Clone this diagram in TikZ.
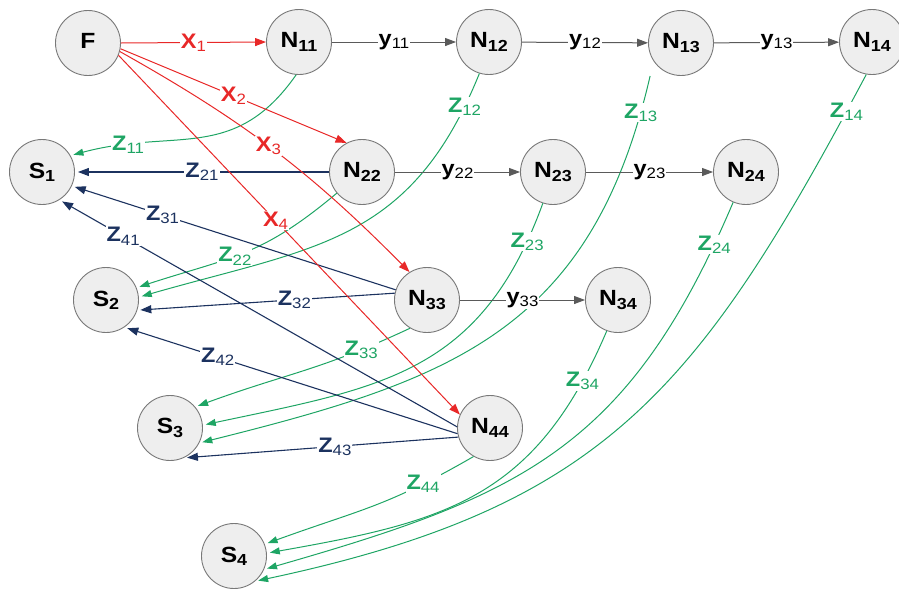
\documentclass[tikz,border=0pt]{standalone}
\usepackage{fontspec}
\setmainfont{Liberation Sans}
\usetikzlibrary{arrows.meta}
\definecolor{cred}{RGB}{232,40,40}
\definecolor{cnavy}{RGB}{28,50,95}
\definecolor{cgreen}{RGB}{30,165,100}
\definecolor{cgray}{RGB}{90,90,90}
\definecolor{cfill}{RGB}{238,238,238}
\definecolor{cedge}{RGB}{120,120,120}
\newcommand\nodetxt[2]{\scalebox{1.12}[1]{\fontsize{22}{22}\selectfont\bfseries #1\raisebox{-0.28ex}{\fontsize{16}{16}\selectfont #2}}}
\newcommand\edgetxt[2]{\scalebox{1.12}[1]{\fontsize{21}{21}\selectfont\bfseries #1\raisebox{-0.28ex}{\fontsize{15}{15}\selectfont\mdseries #2}}}
\begin{document}
\begin{tikzpicture}[x=1pt,y=1pt,
  nd/.style={circle,draw=cedge,fill=cfill,line width=0.9pt,minimum size=65pt,inner sep=0pt},
  rd/.style={draw=cred,line width=1pt,-{Triangle[length=11pt,width=8pt]}},
  gy/.style={draw=cgray,line width=1pt,-{Triangle[length=11pt,width=8pt]}},
  nv/.style={draw=cnavy,line width=1.1pt,-{Triangle[length=11pt,width=8pt]},shorten >=3pt},
  gr/.style={draw=cgreen,line width=1pt,-{Triangle[length=10pt,width=7pt]},shorten >=3pt,looseness=1.15},
  lb/.style={fill=white,inner sep=1pt},
  lr/.style={lb,text=cred},
  ln/.style={lb,text=cnavy},
  lg/.style={lb,text=cgreen},
]
\useasboundingbox (0,0) rectangle (899,-592);
% nodes
\node[nd] (F)   at (88,-43)  {\nodetxt{F}{}};
\node[nd] (N11) at (299,-42) {\nodetxt{N}{11}};
\node[nd] (N12) at (489,-42) {\nodetxt{N}{12}};
\node[nd] (N13) at (681,-43) {\nodetxt{N}{13}};
\node[nd] (N14) at (872,-42) {\nodetxt{N}{14}};
\node[nd] (S1)  at (42,-172) {\nodetxt{S}{1}};
\node[nd] (N22) at (362,-172) {\nodetxt{N}{22}};
\node[nd] (N23) at (553,-172) {\nodetxt{N}{23}};
\node[nd] (N24) at (746,-172) {\nodetxt{N}{24}};
\node[nd] (S2)  at (106,-300) {\nodetxt{S}{2}};
\node[nd] (N33) at (427,-300) {\nodetxt{N}{33}};
\node[nd] (N34) at (618,-300) {\nodetxt{N}{34}};
\node[nd] (S3)  at (170,-428) {\nodetxt{S}{3}};
\node[nd] (N44) at (490,-428) {\nodetxt{N}{44}};
\node[nd] (S4)  at (234,-556) {\nodetxt{S}{4}};
% green curves
\draw[gr] (N11.-95) to[out=-125,in=15] node[lg,pos=0.8]{\edgetxt{Z}{11}} (S1.30);
\draw[gr] (N12.-107) to[out=-112,in=16] node[lg,pos=0.07]{\edgetxt{Z}{12}} (S2.5);
\draw[gr] (N22.-140) to[out=-140,in=18] node[lg,pos=0.55]{\edgetxt{Z}{22}} (S2.22);
\draw[gr] ([shift={(-12pt,-6pt)}]N13.-125) to[out=-103,in=14] node[lg,pos=0.05]{\edgetxt{Z}{13}} (S3.-27);
\draw[gr] (N23.-108) to[out=-110,in=12] node[lg,pos=0.08]{\edgetxt{Z}{23}} (S3.5);
\draw[gr] (N33.-121) to[out=-155,in=20] node[lg,pos=0.2]{\edgetxt{Z}{33}} (S3.40);
\draw[gr] (N14.-100) to[out=-118,in=12] node[lg,pos=0.04]{\edgetxt{Z}{14}} (S4.-50);
\draw[gr] (N24.-113) to[out=-113,in=16] node[lg,pos=0.06]{\edgetxt{Z}{24}} (S4.-24);
\draw[gr] (N34.-110) to[out=-113,in=10] node[lg,pos=0.11]{\edgetxt{Z}{34}} (S4.5);
\draw[gr] (N44.-120) to[out=-150,in=20] node[lg,pos=0.22]{\edgetxt{Z}{44}} (S4.21);
% navy lines
\draw[nv] (N22) -- node[ln]{\edgetxt{Z}{21}} (S1);
\draw[nv] (N33.162) -- node[ln,pos=0.72]{\edgetxt{Z}{31}} (S1.-25);
\draw[nv] (N33.168) -- node[ln,pos=0.39]{\edgetxt{Z}{32}} (S2.-18);
\draw[nv] (N44.178) -- node[ln,pos=0.84]{\edgetxt{Z}{41}} (S1.-58);
\draw[nv] (N44.190) -- node[ln,pos=0.72]{\edgetxt{Z}{42}} (S2.-56);
\draw[nv] (N44.196) -- node[ln,pos=0.45]{\edgetxt{Z}{43}} (S3.-65);
% red lines
\draw[rd] (F.east) -- node[lr]{\edgetxt{X}{1}} (N11.west);
\draw[rd] (F.-10) -- node[lr,pos=0.5]{\edgetxt{X}{2}} (N22.118);
\draw[rd] (F.-15) to[bend left=8] node[lr,pos=0.48]{\edgetxt{X}{3}} (N33.122);
\draw[rd] (F.-22) -- node[lr,pos=0.46]{\edgetxt{X}{4}} (N44.156);
% gray lines
\draw[gy] (N11) -- node[lb]{\edgetxt{y}{11}} (N12);
\draw[gy] (N12) -- node[lb]{\edgetxt{y}{12}} (N13);
\draw[gy] (N13) -- node[lb]{\edgetxt{y}{13}} (N14);
\draw[gy] (N22) -- node[lb]{\edgetxt{y}{22}} (N23);
\draw[gy] (N23) -- node[lb]{\edgetxt{y}{23}} (N24);
\draw[gy] (N33) -- node[lb]{\edgetxt{y}{33}} (N34);
\end{tikzpicture}
\end{document}
